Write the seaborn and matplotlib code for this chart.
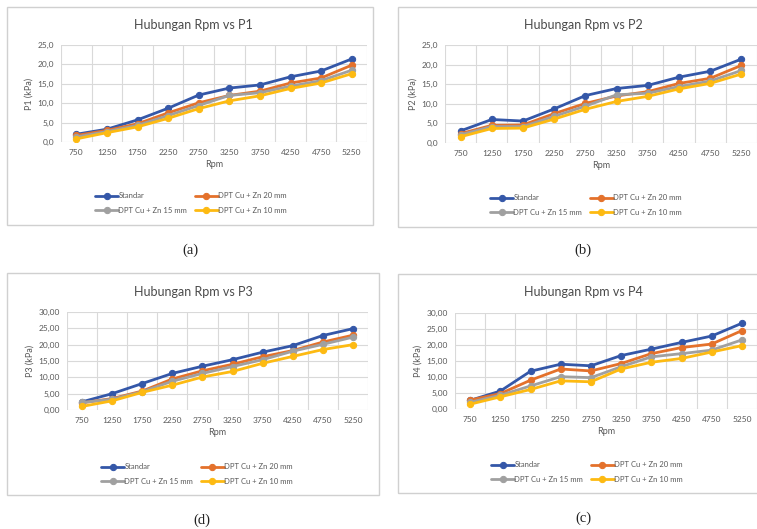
import numpy as np
import pandas as pd
import matplotlib
matplotlib.use("Agg")
import matplotlib.pyplot as plt
from matplotlib.patches import Rectangle
from matplotlib.ticker import FuncFormatter, MultipleLocator
import seaborn as sns

# data
rpm = [750, 1250, 1750, 2250, 2750, 3250, 3750, 4250, 4750, 5250]
series_names = ["Standar", "DPT Cu + Zn 20 mm", "DPT Cu + Zn 15 mm", "DPT Cu + Zn 10 mm"]
colors = ["#3457A8", "#E4712B", "#A0A0A0", "#FDBA12"]

p1_standar = [2.0, 3.3, 5.7, 8.7, 12.1, 13.9, 14.7, 16.8, 18.3, 21.4]
p1_20 = [1.7, 3.0, 4.7, 7.5, 10.1, 12.0, 13.1, 15.2, 16.5, 19.8]
p1_15 = [1.3, 2.7, 4.3, 6.8, 9.4, 12.0, 12.7, 14.4, 15.8, 18.5]
p1_10 = [0.8, 2.4, 3.9, 6.1, 8.6, 10.6, 11.9, 13.8, 15.2, 17.6]

p2_standar = [3.1, 6.0, 5.6, 8.7, 12.1, 13.9, 14.7, 16.8, 18.3, 21.4]
p2_20 = [2.4, 4.5, 4.6, 7.5, 10.1, 12.0, 13.1, 15.2, 16.5, 19.8]
p2_15 = [2.1, 4.2, 4.2, 6.8, 9.4, 12.3, 12.7, 14.4, 15.8, 18.5]
p2_10 = [1.6, 3.7, 3.8, 6.1, 8.6, 10.6, 11.9, 13.8, 15.2, 17.6]

p3_standar = [2.5, 5.0, 8.1, 11.2, 13.4, 15.4, 17.7, 19.7, 22.8, 24.9]
p3_20 = [2.2, 3.5, 5.8, 9.5, 12.0, 14.0, 16.3, 18.2, 20.8, 22.9]
p3_15 = [2.3, 3.3, 5.6, 8.8, 11.2, 13.3, 15.4, 18.0, 20.1, 22.3]
p3_10 = [1.1, 2.8, 5.4, 7.6, 10.1, 11.8, 14.3, 16.4, 18.5, 20.0]

p4_standar = [2.7, 5.6, 11.8, 14.0, 13.5, 16.7, 18.7, 20.8, 22.8, 26.8]
p4_20 = [2.8, 4.8, 9.0, 12.5, 11.9, 14.2, 17.3, 19.2, 20.3, 24.5]
p4_15 = [2.1, 4.3, 7.2, 10.1, 9.8, 13.2, 16.3, 17.3, 18.4, 21.6]
p4_10 = [1.5, 3.8, 6.1, 8.8, 8.5, 12.5, 14.6, 15.8, 17.8, 19.8]

W, H = 757, 529
sns.set_theme(style="white")
plt.rcParams["font.family"] = ["Lato", "DejaVu Sans"]
fig = plt.figure(figsize=(W / 100, H / 100), dpi=100)
fig.patch.set_facecolor("white")


def px_ax(left, top, right, bottom):
    return fig.add_axes([left / W, 1 - bottom / H, (right - left) / W, (bottom - top) / H])


def box(left, top, right, bottom):
    fig.patches.append(Rectangle((left / W, 1 - bottom / H), (right - left) / W, (bottom - top) / H,
                                 transform=fig.transFigure, fill=False, edgecolor="#D0D0D0", lw=1.0))


def panel(rect, boxrect, title, ylabel, data, ymax, decimals, title_xy, leg_xy, caption, cap_xy):
    box(*boxrect)
    ax = px_ax(*rect)
    idx = np.arange(len(rpm))
    for name, vals, c in zip(series_names, data, colors):
        sns.lineplot(x=idx, y=vals, ax=ax, color=c, lw=2.0, marker="o", markersize=4.5,
                     markeredgecolor=c, label=name)
    ax.set_xlim(-0.5, len(rpm) - 0.5)
    ax.set_ylim(0, ymax)
    ax.set_xticks(idx)
    ax.set_xticklabels([str(r) for r in rpm])
    ax.xaxis.set_minor_locator(MultipleLocator(1, offset=0.5))
    ax.yaxis.set_major_locator(MultipleLocator(5))
    ax.yaxis.set_major_formatter(FuncFormatter(lambda v, p: f"{v:.{decimals}f}".replace(".", ",")))
    ax.grid(True, which="minor", axis="x", color="#D9D9D9", lw=0.8)
    ax.grid(True, which="major", axis="y", color="#D9D9D9", lw=0.8)
    ax.set_axisbelow(True)
    for s in ax.spines.values():
        s.set_visible(False)
    ax.tick_params(axis="both", which="both", length=0, labelsize=6, labelcolor="#595959", pad=5)
    ax.set_xlabel("Rpm", fontsize=6.5, color="#595959", labelpad=3)
    ax.set_ylabel(ylabel, fontsize=6.5, color="#595959", labelpad=3)
    fig.text(title_xy[0] / W, 1 - title_xy[1] / H, title,
             ha="center", va="center", fontsize=9, color="#4A4A4A")
    h, l = ax.get_legend_handles_labels()
    order = [0, 2, 1, 3]
    ax.legend([h[i] for i in order], [l[i] for i in order], ncol=2, frameon=False,
              fontsize=5.5, loc="center", bbox_to_anchor=(leg_xy[0] / W, 1 - leg_xy[1] / H),
              bbox_transform=fig.transFigure, handlelength=3.0, handletextpad=0.0,
              columnspacing=1.0, labelspacing=1.0, labelcolor="#595959")
    fig.text(cap_xy[0] / W, 1 - cap_xy[1] / H, caption, ha="center", va="center",
             fontsize=10.5, family="Liberation Serif", color="#222222")
    return ax


panel((61, 45, 367, 142), (7, 7, 373, 225), "Hubungan Rpm vs P1", "P1 (kPa)",
      [p1_standar, p1_20, p1_15, p1_10], 25, 1, (193, 25), (191, 203), "(a)", (190, 250))
panel((445, 45, 757, 143), (398, 7, 790, 227), "Hubungan Rpm vs P2", "P2 (kPa)",
      [p2_standar, p2_20, p2_15, p2_10], 25, 1, (583, 25), (586, 205), "(b)", (583, 250))
panel((67, 312, 368, 410), (7, 273, 379, 495), "Hubungan Rpm vs P3", "P3 (kPa)",
      [p3_standar, p3_20, p3_15, p3_10], 30, 2, (193, 292), (197, 474), "(d)", (202, 520))
panel((455, 313, 757, 409), (398, 274, 790, 493), "Hubungan Rpm vs P4", "P4 (kPa)",
      [p4_standar, p4_20, p4_15, p4_10], 30, 2, (583, 292), (587, 472), "(c)", (583, 518))

fig.savefig("out.png", dpi=100, facecolor="white")
